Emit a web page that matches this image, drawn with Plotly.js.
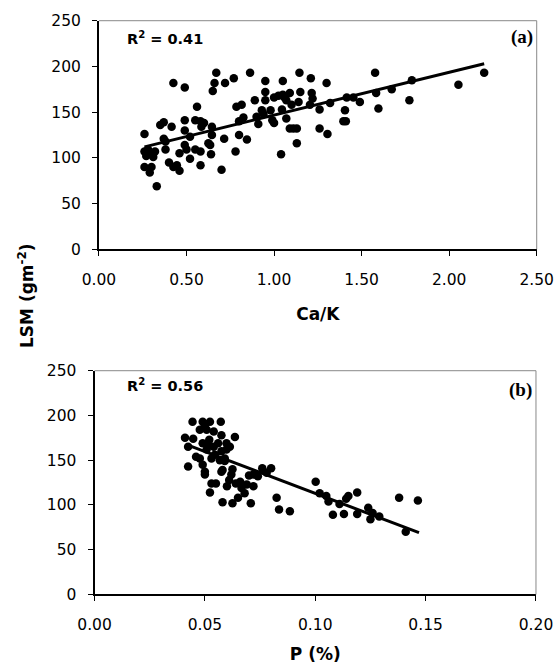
<!DOCTYPE html>
<html>
<head>
<meta charset="utf-8">
<script src="https://cdn.plot.ly/plotly-3.0.1.min.js"></script>
<style>html,body{margin:0;padding:0;background:#fff;}#chart{width:556px;height:664px;}</style>
</head>
<body>
<div id="chart"></div>
<script>
// Panel (a): Ca/K ratio vs LSM
var caK = [0.26,0.26,0.28,0.30,0.26,0.30,0.29,0.33,0.35,0.37,0.415,0.425,0.49,0.37,0.38,0.32,0.38,0.27,0.31,0.40,
  0.425,0.46,0.445,0.46,0.49,0.50,0.52,0.49,0.49,0.55,0.58,0.60,0.56,0.58,0.58,0.55,0.625,0.64,0.645,0.645,
  0.65,0.66,0.67,0.72,0.77,0.70,0.715,0.78,0.80,0.845,0.785,0.815,0.825,0.80,0.863,0.89,0.95,0.95,0.95,0.91,
  0.93,0.98,0.99,1.0,1.0,1.025,1.05,1.05,1.06,1.045,1.07,1.09,1.09,1.11,1.13,1.13,1.04,1.145,1.15,1.14,
  1.10,1.21,1.215,1.22,1.205,1.26,1.26,1.305,1.30,1.32,1.396,1.41,1.405,1.415,1.453,1.49,1.577,1.583,1.596,1.672,
  1.773,1.787,2.053,2.20,0.94,0.635,0.52,0.585,0.90,1.07];
var lsmA = [126,107,109,105,90,90,84,69,136,139,134,182,177,121,118,107,109,102,101,95,
  90,86,92,105,114,109,99,141,130,141,140,138,156,107,92,109,116,104,134,125,
  173,182,193,182,187,87,121,107,125,120,156,158,144,140,193,163,184,172,163,137,
  152,152,141,138,166,168,169,184,166,153,143,171,132,132,132,116,104,193,172,161,
  158,187,171,165,158,153,132,126,182,160,140,140,152,166,166,161,193,171,154,175,
  163,185,180,193,148,114,123,134,145,163];
var trendAx = [0.26, 2.2];
var trendAy = [112, 203];

// Panel (b): P (%) vs LSM
var pPct = [0.1002,0.102,0.105,0.106,0.108,0.111,0.113,0.114,0.115,0.119,0.119,0.124,0.125,0.126,0.129,0.138,0.141,0.1465,
  0.0825,0.0836,0.0885,0.076,0.080,0.078,0.072,0.074,0.070,0.072,0.069,0.068,0.0708,0.065,0.0625,0.058,0.060,0.062,
  0.064,0.0666,0.0523,0.053,0.055,0.050,0.050,0.0424,0.049,0.0477,0.046,0.058,0.059,0.0575,0.041,0.0424,0.0447,0.0444,
  0.049,0.0523,0.0572,0.0477,0.0508,0.054,0.0575,0.0636,0.0515,0.054,0.056,0.0598,0.0508,0.0545,0.0575,0.0598,0.059,
  0.053,0.0568,0.049,0.052,0.0613,0.050,0.0625,0.061,0.066];
var lsmB = [126,113,110,104,89,101,90,107,110,114,90,97,84,91,87,108,70,105,
  108,95,93,141,141,136,134,132,133,121,123,113,102,108,102,103,121,134,
  124,119,114,124,124,137,134,143,145,152,154,139,149,137,175,165,174,193,
  193,193,193,184,184,182,178,176,169,165,169,169,162,156,160,162,152,
  152,150,169,173,165,189,140,128,126];
var trendBx = [0.0432, 0.147];
var trendBy = [166, 69];

var FONT = 'DejaVu Sans, Liberation Sans, Arial, sans-serif';
var marker = {color: '#000', size: 8.5};
var traces = [
  {x: caK, y: lsmA, type: 'scatter', mode: 'markers', marker: marker, xaxis: 'x', yaxis: 'y', hoverinfo: 'x+y'},
  {x: trendAx, y: trendAy, type: 'scatter', mode: 'lines', line: {color: '#000', width: 3}, xaxis: 'x', yaxis: 'y'},
  {x: pPct, y: lsmB, type: 'scatter', mode: 'markers', marker: marker, xaxis: 'x2', yaxis: 'y2', hoverinfo: 'x+y'},
  {x: trendBx, y: trendBy, type: 'scatter', mode: 'lines', line: {color: '#000', width: 3}, xaxis: 'x2', yaxis: 'y2'}
];

function axisBase() {
  return {
    showline: true, linecolor: '#000', linewidth: 2, showgrid: false, zeroline: false,
    ticks: 'outside', ticklen: 5, tickwidth: 1, tickcolor: '#000',
    tickfont: {family: FONT, size: 15.5, color: '#000'}, fixedrange: true
  };
}
var xa = Object.assign(axisBase(), {domain: [0.178, 0.9653], range: [0, 2.5], dtick: 0.5, tick0: 0, tickformat: '.2f', anchor: 'y',
  ticklabelstandoff: 10,
  title: {text: '<b>Ca/K</b>', font: {family: FONT, size: 17, color: '#000'}, standoff: 20}});
var ya = Object.assign(axisBase(), {domain: [0.6246, 0.9688], range: [0, 250], dtick: 50, tick0: 0, anchor: 'x',
  ticklabelstandoff: 8});
var xa2 = Object.assign(axisBase(), {domain: [0.170, 0.964], range: [0, 0.2], dtick: 0.05, tick0: 0, tickformat: '.2f', anchor: 'y2',
  ticklabelstandoff: 10,
  title: {text: '<b>P (%)</b>', font: {family: FONT, size: 17, color: '#000'}, standoff: 16}});
var ya2 = Object.assign(axisBase(), {domain: [0.1047, 0.4417], range: [0, 250], dtick: 50, tick0: 0, anchor: 'x2',
  ticklabelstandoff: 8});

var frameLine = {color: '#888', width: 1};
var layout = {
  width: 556, height: 664, margin: {l: 0, r: 0, t: 0, b: 0},
  paper_bgcolor: '#fff', plot_bgcolor: '#fff', showlegend: false,
  font: {family: FONT, color: '#000'},
  xaxis: xa, yaxis: ya, xaxis2: xa2, yaxis2: ya2,
  shapes: [
    {type: 'line', xref: 'x domain', yref: 'y domain', x0: 0, x1: 1, y0: 1, y1: 1, line: frameLine},
    {type: 'line', xref: 'x domain', yref: 'y domain', x0: 1, x1: 1, y0: 0, y1: 1, line: frameLine},
    {type: 'line', xref: 'x2 domain', yref: 'y2 domain', x0: 0, x1: 1, y0: 1, y1: 1, line: frameLine},
    {type: 'line', xref: 'x2 domain', yref: 'y2 domain', x0: 1, x1: 1, y0: 0, y1: 1, line: frameLine}
  ],
  annotations: [
    {xref: 'paper', yref: 'paper', x: 26/556, y: 1 - 296/664, text: '<b>LSM (gm<sup>-2</sup>)</b>', textangle: -90,
      showarrow: false, font: {family: FONT, size: 17, color: '#000'}, xanchor: 'center', yanchor: 'middle'},
    {xref: 'paper', yref: 'paper', x: 125/556, y: 1 - 38/664, text: '<b>R<sup>2</sup> = 0.41</b>', showarrow: false,
      font: {family: FONT, size: 14.5, color: '#000'}, xanchor: 'left', yanchor: 'middle'},
    {xref: 'paper', yref: 'paper', x: 535/556, y: 1 - 37/664, text: '<b>(a)</b>', showarrow: false,
      font: {family: 'Liberation Serif, Times New Roman, serif', size: 19, color: '#000'}, xanchor: 'right', yanchor: 'middle'},
    {xref: 'paper', yref: 'paper', x: 125/556, y: 1 - 385/664, text: '<b>R<sup>2</sup> = 0.56</b>', showarrow: false,
      font: {family: FONT, size: 14.5, color: '#000'}, xanchor: 'left', yanchor: 'middle'},
    {xref: 'paper', yref: 'paper', x: 534/556, y: 1 - 390/664, text: '<b>(b)</b>', showarrow: false,
      font: {family: 'Liberation Serif, Times New Roman, serif', size: 19, color: '#000'}, xanchor: 'right', yanchor: 'middle'}
  ]
};
Plotly.newPlot('chart', traces, layout, {displayModeBar: false, staticPlot: true});
</script>
</body>
</html>
